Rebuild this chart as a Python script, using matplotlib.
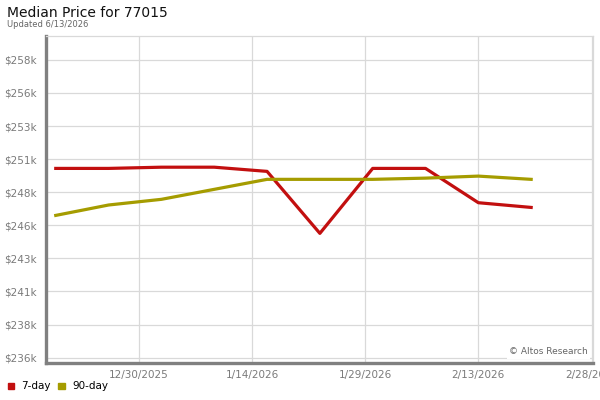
import datetime as dt
import matplotlib
matplotlib.use("Agg")
import matplotlib.pyplot as plt
import matplotlib.dates as mdates

plt.rcParams["font.family"] = "DejaVu Sans"

# weekly data points
dates = [dt.date(2025, 12, 19), dt.date(2025, 12, 26), dt.date(2026, 1, 2),
         dt.date(2026, 1, 9), dt.date(2026, 1, 16), dt.date(2026, 1, 23),
         dt.date(2026, 1, 30), dt.date(2026, 2, 6), dt.date(2026, 2, 13),
         dt.date(2026, 2, 20)]
# median price in $k
day7 = [249.91, 249.91, 250.0, 250.0, 249.69, 245.1, 249.91, 249.91, 247.37, 247.02]
day90 = [246.43, 247.2, 247.62, 248.36, 249.10, 249.10, 249.10, 249.19, 249.34, 249.10]

ytick_vals = [235.9, 238.35, 240.8, 243.25, 245.7, 248.15, 250.6, 253.05, 255.5, 257.95]
ytick_labels = ["$236k", "$238k", "$241k", "$243k", "$246k", "$248k",
                "$251k", "$253k", "$256k", "$258k"]
xtick_dates = [dt.date(2025, 12, 30), dt.date(2026, 1, 14), dt.date(2026, 1, 29),
               dt.date(2026, 2, 13), dt.date(2026, 2, 28)]
xtick_labels = ["12/30/2025", "1/14/2026", "1/29/2026", "2/13/2026", "2/28/2026"]

red = "#c20f0f"
olive = "#a59c00"
gray_txt = "#7a7a7a"

fig = plt.figure(figsize=(6, 4), dpi=100)
ax = fig.add_axes([0.0767, 0.0925, 0.9117, 0.818])

ax.plot(dates, day7, color=red, lw=2.3, solid_joinstyle="round", zorder=3)
ax.plot(dates, day90, color=olive, lw=2.3, solid_joinstyle="round", zorder=3)

ax.set_ylim(235.5, 259.73)
ax.set_xlim(mdates.date2num(dt.date(2025, 12, 19)) - 1.29,
            mdates.date2num(dt.date(2026, 2, 28)) + 0.2)

ax.set_yticks(ytick_vals)
ax.set_yticklabels(ytick_labels)
ax.set_xticks(xtick_dates)
ax.set_xticklabels(xtick_labels)
ax.tick_params(length=0, labelsize=7.5, labelcolor=gray_txt)
ax.tick_params(axis="y", pad=7)
ax.tick_params(axis="x", pad=5)
ax.grid(color="#d9d9d9", lw=0.9)
ax.set_axisbelow(True)

for s in ["top", "right"]:
    ax.spines[s].set_color("#d9d9d9")
    ax.spines[s].set_linewidth(0.9)
for s in ["left", "bottom"]:
    ax.spines[s].set_color("#808080")
    ax.spines[s].set_linewidth(2.4)

ax.text(0.99, 0.02, "\u00a9 Altos Research", transform=ax.transAxes,
        ha="right", va="bottom", fontsize=6.5, color="#666666",
        bbox=dict(facecolor="white", edgecolor="none", pad=1.5), zorder=4)

fig.text(0.012, 0.967, "Median Price for 77015", fontsize=10, va="center", color="#111111")
fig.text(0.012, 0.938, "Updated 6/13/2026", fontsize=6, va="center", color="#666666")

# legend
fig.patches.append(plt.Rectangle((0.013, 0.027), 0.011, 0.016, color=red,
                                 transform=fig.transFigure, figure=fig))
fig.text(0.035, 0.035, "7-day", fontsize=7.5, va="center")
fig.patches.append(plt.Rectangle((0.097, 0.027), 0.011, 0.016, color=olive,
                                 transform=fig.transFigure, figure=fig))
fig.text(0.12, 0.035, "90-day", fontsize=7.5, va="center")

fig.savefig("out.png", dpi=100)
